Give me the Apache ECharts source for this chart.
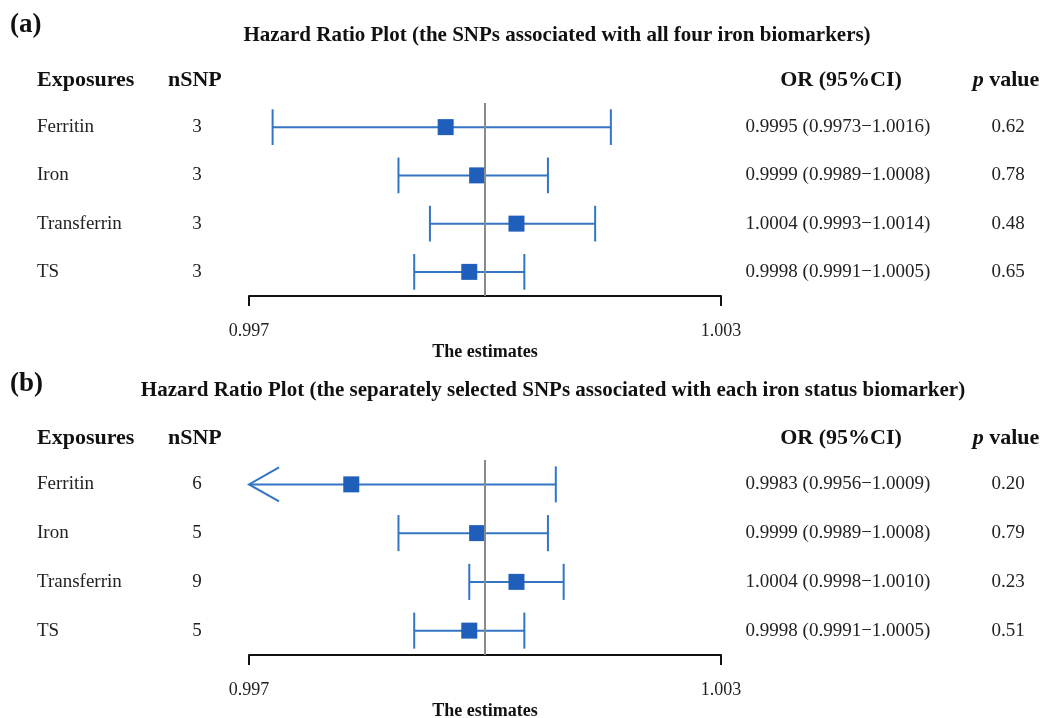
<!DOCTYPE html>
<html>
<head>
<meta charset="utf-8">
<script src="https://cdn.jsdelivr.net/npm/echarts@6/dist/echarts.min.js"></script>
<style>
  html, body { margin: 0; padding: 0; background: #fff; }
  #chart { width: 1047px; height: 718px; }
</style>
</head>
<body>
<div id="chart"></div>
<script>
// exposures (same in both panels)
var exposures = ['Ferritin', 'Iron', 'Transferrin', 'TS'];

// panel (a): SNPs associated with all four iron biomarkers
var nsnpA = [3, 3, 3, 3];
var orA = [0.9995, 0.9999, 1.0004, 0.9998];
var lowA = [0.9973, 0.9989, 0.9993, 0.9991];
var highA = [1.0016, 1.0008, 1.0014, 1.0005];
var pA = ['0.62', '0.78', '0.48', '0.65'];

// panel (b): separately selected SNPs for each biomarker
var nsnpB = [6, 5, 9, 5];
var orB = [0.9983, 0.9999, 1.0004, 0.9998];
var lowB = [0.9956, 0.9989, 0.9998, 0.9991];
var highB = [1.0009, 1.0008, 1.0010, 1.0005];
var pB = ['0.20', '0.79', '0.23', '0.51'];

var xTicks = [0.997, 1.003];
var nullValue = 1.0;

var FONT = '"Liberation Serif", "DejaVu Serif", serif';
var BLUE = '#1f5fbb';
var LINE_BLUE = '#3474c4';

var chart = echarts.init(document.getElementById('chart'));

function fmt(v) { return v.toFixed(4); }

function leftLabels(nsnp) {
  return exposures.map(function (e, i) { return '{a|' + e + '}{b|' + nsnp[i] + '}'; });
}
function rightLabels(or, low, high, p) {
  return exposures.map(function (e, i) {
    return '{a|' + fmt(or[i]) + ' (' + fmt(low[i]) + '\u2212' + fmt(high[i]) + ')}{b|' + p[i] + '}';
  });
}

function xAxisFor(gridIndex) {
  return {
    type: 'value', gridIndex: gridIndex, min: 0.997, max: 1.003,
    splitLine: { show: false },
    axisLine: { show: true, onZero: false, lineStyle: { color: '#111', width: 2 } },
    axisTick: { show: true, customValues: xTicks, length: 10, lineStyle: { color: '#111', width: 2 } },
    axisLabel: {
      customValues: xTicks, margin: 26, fontFamily: FONT, fontSize: 18, color: '#222',
      formatter: function (v) { return v.toFixed(3); }
    },
    name: 'The estimates', nameLocation: 'middle', nameGap: 47,
    nameTextStyle: { fontFamily: FONT, fontSize: 18, fontWeight: 'bold', color: '#111' }
  };
}

function yAxesFor(gridIndex, nsnp, or, low, high, p) {
  var rich = {
    a: { fontFamily: FONT, fontSize: 19, color: '#222', width: 130, align: 'left' },
    b: { fontFamily: FONT, fontSize: 19, color: '#222', width: 60, align: 'center' }
  };
  var richR = {
    a: { fontFamily: FONT, fontSize: 19, color: '#222', width: 226, align: 'center' },
    b: { fontFamily: FONT, fontSize: 19, color: '#222', width: 114, align: 'center' }
  };
  return [{
    type: 'category', gridIndex: gridIndex, data: leftLabels(nsnp), inverse: true,
    axisLine: { show: false }, axisTick: { show: false },
    axisLabel: { margin: 22, rich: rich, formatter: function (v) { return v; } }
  }, {
    type: 'category', gridIndex: gridIndex, position: 'right', inverse: true,
    data: rightLabels(or, low, high, p),
    axisLine: { show: false }, axisTick: { show: false },
    axisLabel: { margin: 4, rich: richR, formatter: function (v) { return v; } }
  }];
}

function ciData(low, high) {
  return exposures.map(function (e, i) { return [low[i], high[i], i]; });
}

function renderCI(params, api) {
  var lo = api.value(0), hi = api.value(1), idx = api.value(2);
  var axisMin = 0.997;
  var clipped = lo < axisMin;
  var pLo = api.coord([clipped ? axisMin : lo, idx]);
  var pHi = api.coord([hi, idx]);
  var band = api.size([0, 1])[1];
  var cap = band * 0.37;
  var style = { stroke: LINE_BLUE, lineWidth: 2, fill: null };
  var children = [
    { type: 'line', shape: { x1: pLo[0], y1: pLo[1], x2: pHi[0], y2: pHi[1] }, style: style },
    { type: 'line', shape: { x1: pHi[0], y1: pHi[1] - cap, x2: pHi[0], y2: pHi[1] + cap }, style: style }
  ];
  if (clipped) {
    children.push({ type: 'polyline', shape: { points: [[pLo[0] + 30, pLo[1] - 17], [pLo[0], pLo[1]], [pLo[0] + 30, pLo[1] + 17]] }, style: style });
  } else {
    children.push({ type: 'line', shape: { x1: pLo[0], y1: pLo[1] - cap, x2: pLo[0], y2: pLo[1] + cap }, style: style });
  }
  return { type: 'group', children: children };
}

function pointData(or) {
  return exposures.map(function (e, i) { return [or[i], i]; });
}

function seriesFor(k, or, low, high) {
  var axisIdx = k * 2;
  return [{
    type: 'custom', xAxisIndex: k, yAxisIndex: axisIdx,
    renderItem: renderCI, data: ciData(low, high), encode: { x: [0, 1], y: 2 }, z: 2, silent: true, clip: false
  }, {
    type: 'scatter', xAxisIndex: k, yAxisIndex: axisIdx, data: pointData(or),
    symbol: 'rect', symbolSize: 16, itemStyle: { color: BLUE, opacity: 1 }, z: 4, silent: true,
    markLine: {
      silent: true, symbol: 'none', label: { show: false },
      lineStyle: { color: '#8a8a8a', width: 2, type: 'solid' },
      data: [{ xAxis: nullValue }]
    }
  }];
}

function headerTexts(y) {
  var st = { fontFamily: FONT, fontSize: 22, fontWeight: 'bold', fill: '#111', textVerticalAlign: 'middle' };
  return [
    { type: 'text', x: 37, y: y, style: Object.assign({ text: 'Exposures' }, st) },
    { type: 'text', x: 168, y: y, style: Object.assign({ text: 'nSNP' }, st) },
    { type: 'text', x: 841, y: y, style: Object.assign({ text: 'OR (95%CI)', textAlign: 'center' }, st) },
    { type: 'text', x: 1006, y: y, style: {
      text: '{i|p} value', fontFamily: FONT, fontSize: 22, fontWeight: 'bold', fill: '#111',
      textAlign: 'center', textVerticalAlign: 'middle',
      rich: { i: { fontFamily: FONT, fontSize: 22, fontWeight: 'bold', fontStyle: 'italic', color: '#111' } }
    } }
  ];
}

function titleText(x, y, text) {
  return { type: 'text', x: x, y: y, style: { text: text, fontFamily: FONT, fontSize: 21, fontWeight: 'bold', fill: '#111', textAlign: 'center', textVerticalAlign: 'middle' } };
}
function panelTag(y, text) {
  return { type: 'text', x: 10, y: y, style: { text: text, fontFamily: FONT, fontSize: 27, fontWeight: 'bold', fill: '#111', textVerticalAlign: 'middle' } };
}

var graphic = [
  panelTag(25, '(a)'),
  titleText(557, 36, 'Hazard Ratio Plot (the SNPs associated with all four iron biomarkers)'),
  panelTag(384, '(b)'),
  titleText(553, 391, 'Hazard Ratio Plot (the separately selected SNPs associated with each iron status biomarker)')
].concat(headerTexts(80), headerTexts(438));

chart.setOption({
  backgroundColor: '#fff',
  animation: false,
  graphic: graphic,
  grid: [
    { left: 249, right: 326, top: 103, height: 193, outerBoundsMode: 'none', containLabel: false },
    { left: 249, right: 326, top: 460, height: 195, outerBoundsMode: 'none', containLabel: false }
  ],
  xAxis: [xAxisFor(0), xAxisFor(1)],
  yAxis: yAxesFor(0, nsnpA, orA, lowA, highA, pA).concat(yAxesFor(1, nsnpB, orB, lowB, highB, pB)),
  series: seriesFor(0, orA, lowA, highA).concat(seriesFor(1, orB, lowB, highB))
});
</script>
</body>
</html>
